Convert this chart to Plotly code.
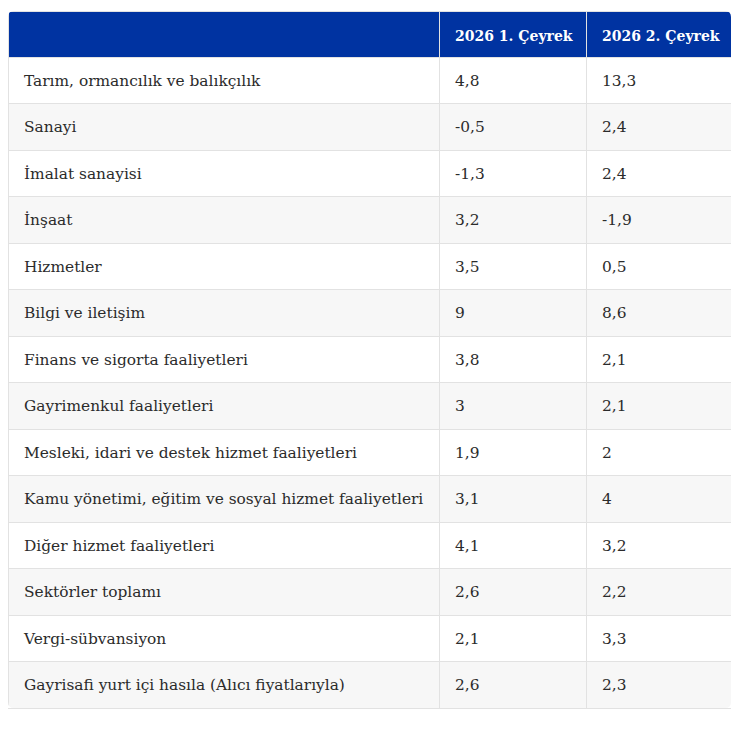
import plotly.graph_objects as go

sectors = [
    "Tarım, ormancılık ve balıkçılık",
    "Sanayi",
    "İmalat sanayisi",
    "İnşaat",
    "Hizmetler",
    "Bilgi ve iletişim",
    "Finans ve sigorta faaliyetleri",
    "Gayrimenkul faaliyetleri",
    "Mesleki, idari ve destek hizmet faaliyetleri",
    "Kamu yönetimi, eğitim ve sosyal hizmet faaliyetleri",
    "Diğer hizmet faaliyetleri",
    "Sektörler toplamı",
    "Vergi-sübvansiyon",
    "Gayrisafi yurt içi hasıla (Alıcı fiyatlarıyla)",
]
q1_2026 = ["4,8", "-0,5", "-1,3", "3,2", "3,5", "9", "3,8", "3", "1,9", "3,1", "4,1", "2,6", "2,1", "2,6"]
q2_2026 = ["13,3", "2,4", "2,4", "-1,9", "0,5", "8,6", "2,1", "2,1", "2", "4", "3,2", "2,2", "3,3", "2,3"]
headers = ["", "2026 1. Çeyrek", "2026 2. Çeyrek"]

# figure sits inside the page body (8px margin)
W, H = 731, 708
tx0, tx1 = 0, 723          # table left/right in figure px
ty0, ty1 = 3, 700          # table top/bottom in figure px
hdr_h, row_h = 46, 46.5
shift_y, shift_x = 9, 8    # text offset inside cells
colw = [431, 147, tx1 - tx0 - 431 - 147]

row_fill = ["#ffffff" if i % 2 == 0 else "#f7f7f7" for i in range(len(sectors))]
empty = [[""] * len(sectors)] * 3

def px_x(v):
    return v / W

def px_y(v):
    return 1 - v / H

bg = go.Table(
    domain=dict(x=[px_x(tx0), px_x(tx1)], y=[px_y(ty1 + 2), px_y(ty0)]),
    columnwidth=colw,
    header=dict(
        values=["", "", ""],
        fill_color="#0033a1",
        line=dict(color="#e2e2e2", width=1),
        height=hdr_h,
    ),
    cells=dict(
        values=empty,
        fill_color=[row_fill, row_fill, row_fill],
        line=dict(color="#e2e2e2", width=1),
        height=row_h,
    ),
)

font_fam = "DejaVu Serif"
txt = go.Table(
    domain=dict(x=[px_x(tx0 + shift_x), 1], y=[0, px_y(ty0 + shift_y)]),
    columnwidth=[colw[0], colw[1], W - shift_x - colw[0] - colw[1]],
    header=dict(
        values=["<b>" + h.replace(" ", "\u00a0") + "</b>" for h in headers],
        fill_color="rgba(0,0,0,0)",
        line=dict(color="rgba(0,0,0,0)", width=0),
        align="left",
        height=hdr_h,
        font=dict(family=font_fam, size=14, color="white"),
    ),
    cells=dict(
        values=[sectors, q1_2026, q2_2026],
        fill_color="rgba(0,0,0,0)",
        line=dict(color="rgba(0,0,0,0)", width=0),
        align="left",
        height=row_h,
        font=dict(family=font_fam, size=15.4, color="#2b2b2b"),
    ),
)

fig = go.Figure([bg, txt])

# rounded corners (white masks)
r = 6
def corner(cx, cy, dx, dy):
    p0 = (px_x(cx), px_y(cy))
    pa = (px_x(cx + dx * r), px_y(cy))
    pb = (px_x(cx), px_y(cy + dy * r))
    return f"M {p0[0]},{p0[1]} L {pa[0]},{pa[1]} Q {p0[0]},{p0[1]} {pb[0]},{pb[1]} Z"

for cx, cy, dx, dy in [(tx0, ty0, 1, 1), (tx1, ty0, -1, 1), (tx0, ty1, 1, -1), (tx1, ty1, -1, -1)]:
    fig.add_shape(type="path", path=corner(cx, cy, dx, dy), xref="paper", yref="paper",
                  fillcolor="white", line=dict(width=0), layer="above")

fig.update_layout(width=W, height=H, margin=dict(l=0, r=0, t=0, b=0),
                  paper_bgcolor="white")
fig.write_html("out.html")
